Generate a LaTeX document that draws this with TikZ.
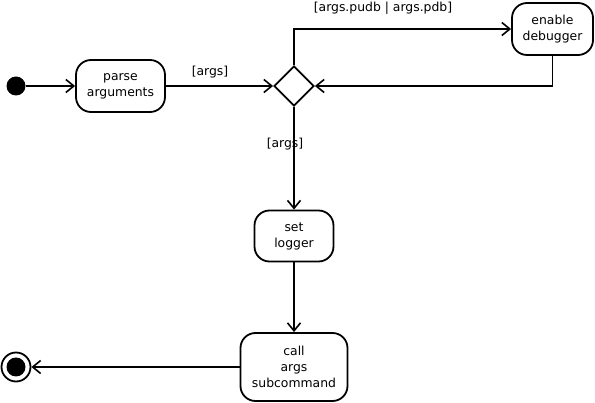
\documentclass[tikz,border=0pt]{standalone}
\usepackage{fontspec}
\setmainfont{DejaVu Sans}
\usetikzlibrary{arrows.meta,shapes.geometric}
\begin{document}
\begin{tikzpicture}[x=1pt,y=-1pt,
  every node/.style={font=\fontsize{12.4}{16}\selectfont},
  act/.style={draw,line width=1.8pt,rounded corners=15pt,align=center,inner sep=0pt},
  flow/.style={line width=1.7pt,-{Straight Barb[length=8pt,width=13pt,line width=1.6pt]}},
  lbl/.style={inner sep=0pt}]
\useasboundingbox (0,0) rectangle (595,403);
\node[circle,fill=black,minimum size=19pt,inner sep=0pt] (init) at (16,86) {};
\node[act,minimum width=89pt,minimum height=52pt] (parse) at (120.5,86) {parse\\arguments};
\node[diamond,draw,line width=1.8pt,minimum width=40pt,minimum height=40pt,inner sep=0pt] (dec) at (294,86) {};
\node[act,minimum width=81pt,minimum height=52pt] (dbg) at (552.5,29) {enable\\debugger};
\node[act,minimum width=79pt,minimum height=51pt] (log) at (294,236) {set\\logger};
\node[act,minimum width=107pt,minimum height=68pt] (call) at (294,367) {call\\args\\subcommand};
\node[circle,draw,line width=1.8pt,minimum size=29pt,inner sep=0pt] (fin) at (16,367) {};
\node[circle,fill=black,minimum size=19pt,inner sep=0pt] at (fin) {};
\draw[flow] (init) -- (parse);
\draw[flow] (parse) -- (dec);
\node[lbl] at (210,72) {[args]};
\draw[flow] (dec.north) |- (dbg.west);
\node[lbl] at (383,8) {[args.pudb | args.pdb]};
\draw[flow] (dbg.south) |- (dec.east);
\draw[flow] (dec.south) -- (log.north);
\node[lbl] at (285,144) {[args]};
\draw[flow] (log.south) -- (call.north);
\draw[flow] (call.west) -- (fin.east);
\end{tikzpicture}
\end{document}
